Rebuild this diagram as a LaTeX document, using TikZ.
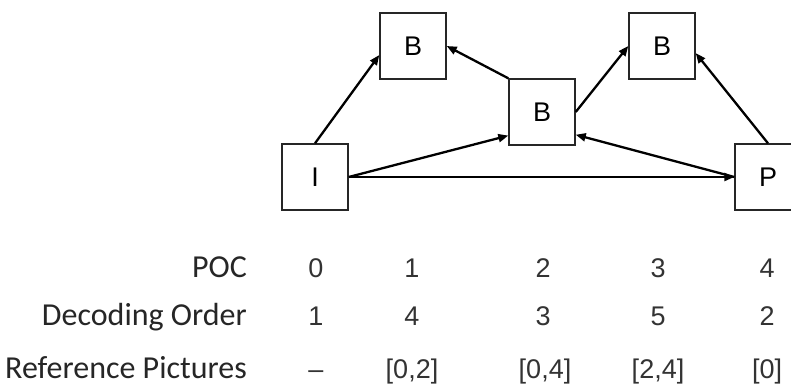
\documentclass[tikz,border=0pt]{standalone}
\usepackage{fontspec}
\setmainfont{Carlito}
\newfontfamily\boxfont{Liberation Sans}
\usetikzlibrary{arrows.meta}
\begin{document}
\begin{tikzpicture}[x=1pt,y=-1pt,
  frame/.style={draw=black!85,line width=1.4pt,minimum size=66pt,inner sep=0pt,font=\boxfont\fontsize{27}{30}\selectfont},
  link/.style={draw=black,line width=2.3pt,-{Triangle[length=10pt,width=8pt]}},
  lab/.style={anchor=base east,inner sep=0pt,text=black!85,font=\fontsize{32}{36}\selectfont},
  val/.style={anchor=base,inner sep=0pt,text=black!80,font=\boxfont\fontsize{27}{30}\selectfont}]
\useasboundingbox (0,0) rectangle (791,385);
\clip (0,0) rectangle (791,385);
\fill[white] (0,0) rectangle (791,385);
\node[frame] (I) at (315,177) {I};
\node[frame] (B1) at (413,46) {B};
\node[frame] (B2) at (542,112) {B};
\node[frame] (B3) at (662,46) {B};
\node[frame] (P) at (768,177) {P};
\draw[link] (I.north) -- (B1.195);
\draw[link] (B2.north west) -- (B1.east);
\draw[link] (B2.east) -- (B3.west);
\draw[link] (P.north) -- (B3.-12);
\draw[link] (I.east) -- (B2.215);
\draw[link] (P.west) -- (B2.-34);
\draw[link] (I.east) -- (P.west);
\node[lab] (l1) at (247,277) {POC};
\node[lab] (l2) at (247,325) {Decoding Order};
\node[lab] (l3) at (247,378) {Reference Pictures};
\node[val] (a0) at (316,277) {0};
\node[val] (a1) at (412,277) {1};
\node[val] (a2) at (543,277) {2};
\node[val] (a3) at (658,277) {3};
\node[val] (a4) at (767,277) {4};
\node[val] (b0) at (316,325) {1};
\node[val] (b1) at (412,325) {4};
\node[val] (b2) at (543,325) {3};
\node[val] (b3) at (658,325) {5};
\node[val] (b4) at (767,325) {2};
\node[val] (c0) at (316,378) {–};
\node[val] (c1) at (412,378) {[0,2]};
\node[val] (c2) at (545,378) {[0,4]};
\node[val] (c3) at (658,378) {[2,4]};
\node[val] (c4) at (767,378) {[0]};
\end{tikzpicture}
\end{document}
